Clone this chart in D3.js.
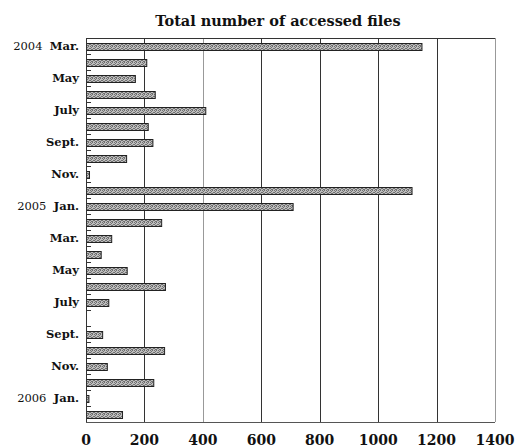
<!DOCTYPE html>
<html lang="en">
<head>
  <meta charset="UTF-8">
  <title>accessed files</title>
  <style>
    body { margin: 0; background: #fff; }
    text { font-family: "DejaVu Serif", serif; fill: #111; }
  </style>
</head>
<body>
  <div class="chart"></div>
  <script src="https://cdnjs.cloudflare.com/ajax/libs/d3/7.8.5/d3.min.js"></script>
  <script>
    const months = ["2004-03","2004-04","2004-05","2004-06","2004-07","2004-08","2004-09","2004-10","2004-11","2004-12",
                    "2005-01","2005-02","2005-03","2005-04","2005-05","2005-06","2005-07","2005-08","2005-09","2005-10",
                    "2005-11","2005-12","2006-01","2006-02"];
    const monthLabels = ["2004|Mar.","","May","","July","","Sept.","","Nov.","",
                         "2005|Jan.","","Mar.","","May","","July","","Sept.","",
                         "Nov.","","2006|Jan.",""];
    const accessedFiles = [1150, 208, 169, 237, 410, 213, 229, 139, 12, 1116,
                           709, 259, 88, 52, 141, 272, 78, 0, 57, 269,
                           73, 232, 10, 125];
    const xTicks = [0, 200, 400, 600, 800, 1000, 1200, 1400];

    const width = 518, height = 448;
    const margin = { top: 38, right: 23, bottom: 26, left: 86 };
    const innerW = width - margin.left - margin.right;
    const innerH = height - margin.top - margin.bottom;

    const x = d3.scaleLinear().domain([0, 1400]).range([0, innerW]);
    const y = d3.scaleBand().domain(months).range([0, innerH]);

    const svg = d3.select('.chart').append('svg')
      .attr('width', width)
      .attr('height', height);

    // fine stipple fill like the original
    const pat = svg.append('defs').append('pattern')
      .attr('id', 'stipple')
      .attr('width', 4).attr('height', 4)
      .attr('patternUnits', 'userSpaceOnUse');
    pat.append('rect').attr('width', 4).attr('height', 4).attr('fill', '#bdbdbd');
    [[0, 0], [2, 0], [1, 1], [3, 2], [0, 2], [2, 3], [1, 3]].forEach(([px, py]) => {
      pat.append('rect').attr('x', px).attr('y', py).attr('width', 1).attr('height', 1).attr('fill', '#707070');
    });

    svg.append('text')
      .attr('x', 278).attr('y', 26)
      .attr('text-anchor', 'middle')
      .style('font-size', '14.5px')
      .style('font-weight', 'bold')
      .text('Total number of accessed files');

    const g = svg.append('g').attr('transform', `translate(${margin.left},${margin.top})`);

    // vertical grid lines
    g.selectAll('.grid').data(xTicks.slice(1))
      .join('line')
      .attr('x1', d => Math.round(x(d)) + 0.5).attr('x2', d => Math.round(x(d)) + 0.5)
      .attr('y1', 0).attr('y2', innerH)
      .attr('stroke', d => (d === 400 || d === 1400) ? '#999' : '#333');

    // top and bottom frame
    g.append('line').attr('x1', 0).attr('x2', innerW).attr('y1', 0.5).attr('y2', 0.5).attr('stroke', '#333');
    g.append('line').attr('x1', 0).attr('x2', innerW).attr('y1', innerH + 0.5).attr('y2', innerH + 0.5).attr('stroke', '#555');

    // bars
    const barH = 7;
    g.selectAll('.bar').data(months)
      .join('rect')
      .attr('class', 'bar')
      .attr('x', 0.5)
      .attr('y', d => Math.round(y(d) + (y.bandwidth() - barH) / 2) + 0.5)
      .attr('width', (d, i) => Math.max(0, x(accessedFiles[i]) - 0.5))
      .attr('height', barH)
      .attr('fill', 'url(#stipple)')
      .attr('stroke', '#222')
      .style('display', (d, i) => accessedFiles[i] > 0 ? null : 'none');

    // y axis with ticks between bands
    g.append('line').attr('x1', 0.5).attr('x2', 0.5).attr('y1', 0).attr('y2', innerH).attr('stroke', '#333');
    g.selectAll('.ytick').data(months.slice(1))
      .join('line')
      .attr('x1', 0).attr('x2', 5)
      .attr('y1', d => Math.round(y(d)) + 0.5).attr('y2', d => Math.round(y(d)) + 0.5)
      .attr('stroke', '#333');

    // y labels
    const yl = g.selectAll('.ylabel').data(months)
      .join('text')
      .attr('x', -7)
      .attr('y', d => y(d) + y.bandwidth() / 2 + 4)
      .attr('text-anchor', 'end')
      .style('font-size', '11.5px')
      .style('white-space', 'pre');
    yl.each(function(d, i) {
      const parts = monthLabels[i].split('|');
      const t = d3.select(this);
      if (parts.length === 2) {
        t.append('tspan').text(parts[0] + '  ');
        t.append('tspan').style('font-weight', 'bold').text(parts[1]);
      } else {
        t.append('tspan').style('font-weight', 'bold').text(parts[0]);
      }
    });

    // x tick labels
    g.selectAll('.xlabel').data(xTicks)
      .join('text')
      .attr('x', d => x(d))
      .attr('y', innerH + 23)
      .attr('text-anchor', 'middle')
      .style('font-size', '14px')
      .style('font-weight', 'bold')
      .text(d => d);
  </script>
</body>
</html>
